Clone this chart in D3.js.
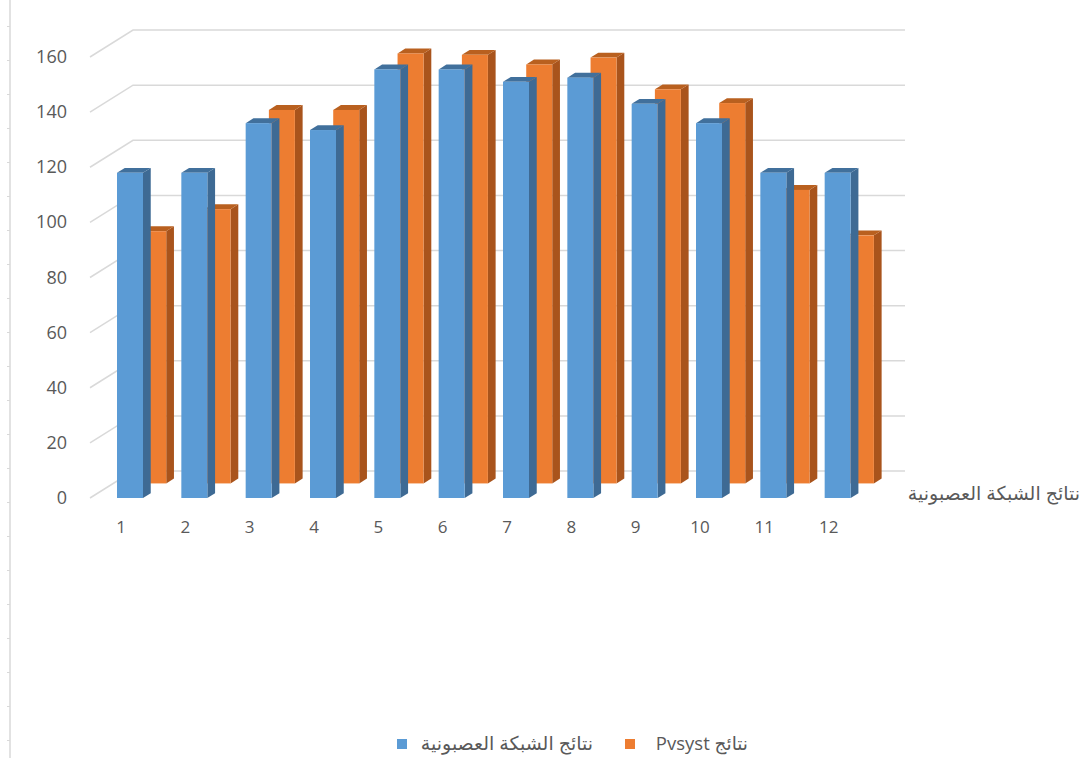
<!DOCTYPE html>
<html>
<head>
<meta charset="utf-8">
<script src="https://cdn.jsdelivr.net/npm/d3@7"></script>
<style>
  body { margin: 0; background: #fff; }
  text { font-family: "Open Sans", "DejaVu Sans", sans-serif; fill: #595959; }
  .rtl { direction: rtl; unicode-bidi: embed; }
</style>
</head>
<body>
<div id="chart"></div>
<script>
var months = [1, 2, 3, 4, 5, 6, 7, 8, 9, 10, 11, 12];
var nn_values = [118, 118, 136, 133.5, 155.5, 155.5, 151, 152.5, 143, 136, 118, 118];
var pvsyst_values = [91.5, 99.5, 135.5, 135.5, 156, 155.5, 152, 154.5, 143, 138, 106.5, 90];
var y_ticks = [0, 20, 40, 60, 80, 100, 120, 140, 160];
var series_names = ["نتائج الشبكة العصبونية", "نتائج Pvsyst"];

var width = 1084, height = 758;
var depth = {dx: 43, dy: -27};   // full depth of the 3d box

var svg = d3.select("#chart").append("svg")
  .attr("width", width)
  .attr("height", height);

var x = d3.scaleBand().domain(months).range([90, 862]);
var y = d3.scaleLinear().domain([0, 160]).range([498, 57]);

// odd secondary axis on the far left
var side_scale = d3.scaleLinear().domain([-1, 21]).range([26, 774]);
svg.append("g")
  .attr("transform", "translate(10,0)")
  .call(d3.axisLeft(side_scale).ticks(22).tickSize(3).tickFormat(""))
  .call(function(g) {
    g.selectAll("line").attr("stroke", "#d9d9d9");
    g.select(".domain").attr("stroke", "#d9d9d9").attr("stroke-width", 1.5)
      .attr("d", "M0,0V" + height);
  });

// walls: side wall diagonals + back wall gridlines
var grid = svg.append("g").attr("stroke", "#d9d9d9").attr("stroke-width", 1.5).attr("fill", "none");
y_ticks.forEach(function(t) {
  var y0 = y(t);
  grid.append("path")
    .attr("d", "M" + x.range()[0] + "," + y0 +
      "L" + (x.range()[0] + depth.dx) + "," + (y0 + depth.dy) +
      "L" + (x.range()[1] + depth.dx) + "," + (y0 + depth.dy));
});

svg.append("g").selectAll("text")
  .data(y_ticks).enter().append("text")
  .attr("x", 67)
  .attr("y", function(d) { return y(d) + 6; })
  .attr("text-anchor", "end")
  .style("font-size", "18px")
  .text(function(d) { return d; });

function bar_faces(g, vals, d0, d1, cols) {
  var ox = depth.dx * d0, oy = depth.dy * d0;
  var bx = depth.dx * (d1 - d0), by = depth.dy * (d1 - d0);
  var bw = 26, off = 27;
  var items = months.map(function(m, i) { return {m: m, v: vals[i]}; });
  var b = g.selectAll("g.bar").data(items).enter().append("g").attr("class", "bar");
  b.each(function(d) {
    var xl = x(d.m) + off + ox, xr = xl + bw;
    var yb = y(0) + oy, yt = y(d.v) + oy;
    var el = d3.select(this);
    el.append("path").attr("fill", cols[1])
      .attr("d", "M" + xr + "," + yt + "L" + (xr + bx) + "," + (yt + by) +
        "L" + (xr + bx) + "," + (yb + by) + "L" + xr + "," + yb + "Z");
    el.append("path").attr("fill", cols[2])
      .attr("d", "M" + xl + "," + yt + "L" + xr + "," + yt +
        "L" + (xr + bx) + "," + (yt + by) + "L" + (xl + bx) + "," + (yt + by) + "Z");
    el.append("rect").attr("fill", cols[0])
      .attr("x", xl).attr("y", yt).attr("width", bw).attr("height", yb - yt);
  });
}

bar_faces(svg.append("g"), pvsyst_values, 0.54, 0.72, ["#ED7D31", "#A9541C", "#B9601F"]);
bar_faces(svg.append("g"), nn_values, 0, 0.18, ["#5B9BD5", "#3E6A94", "#41709C"]);

svg.append("g").selectAll("text")
  .data(months).enter().append("text")
  .attr("x", function(d) { return x(d) + 31; })
  .attr("y", 533)
  .attr("text-anchor", "middle")
  .style("font-size", "17px")
  .text(function(d) { return d; });

// series (depth) axis label
svg.append("text")
  .attr("class", "rtl")
  .attr("x", 1080).attr("y", 500)
  .attr("text-anchor", "start")
  .style("font-size", "19px")
  .text(series_names[0]);

// legend
var legend = [
  {name: series_names[0], color: "#5B9BD5", sx: 397, tx: 593, fs: 19},
  {name: series_names[1], color: "#ED7D31", sx: 625, tx: 748, fs: 18.5}
];
var lg = svg.append("g").selectAll("g").data(legend).enter().append("g");
lg.append("rect")
  .attr("x", function(d) { return d.sx; }).attr("y", 739)
  .attr("width", 10).attr("height", 10)
  .attr("fill", function(d) { return d.color; });
lg.append("text")
  .attr("class", "rtl")
  .attr("x", function(d) { return d.tx; }).attr("y", 750)
  .attr("text-anchor", "start")
  .style("font-size", function(d) { return d.fs + "px"; })
  .text(function(d) { return d.name; });
</script>
</body>
</html>
